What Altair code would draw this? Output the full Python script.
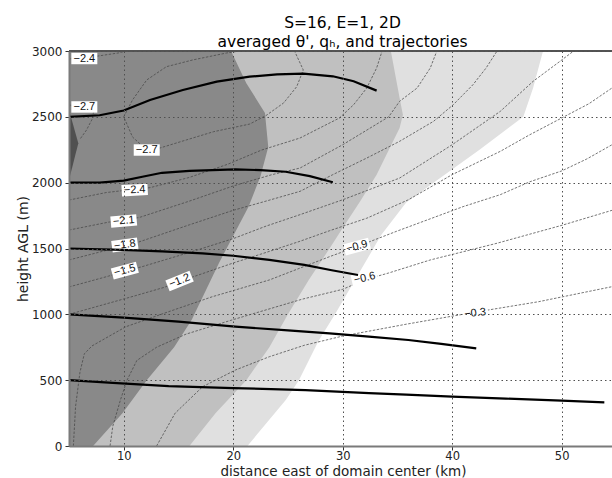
import altair as alt
import pandas as pd

# ---------------- axis ranges and ticks ----------------
x_domain = [5.0, 54.6]
y_domain = [0, 3000]
x_ticks = [10, 20, 30, 40, 50]
y_ticks = [0, 500, 1000, 1500, 2000, 2500, 3000]

# ---------------- q_h shading: boundary x (km) at height y (m) ----------------
qh1_y = [0, 350, 500, 800, 1000, 1300, 1600, 1850, 2000, 2250, 2500, 2720, 3000]
qh1_x = [21.3, 24.8, 26.0, 27.8, 29.3, 31.4, 33.5, 35.8, 38.3, 42.5, 46.5, 47.4, 48.3]
qh2_y = [0, 250, 500, 750, 1000, 1260, 1500, 1656, 1858, 2061, 2263, 2415, 2516, 2643, 3000]
qh2_x = [16.0, 18.4, 21.2, 23.3, 25.0, 26.9, 28.8, 30.0, 31.6, 33.1, 34.3, 35.2, 35.5, 35.2, 34.4]
qh3_y = [0, 250, 500, 750, 957, 1390, 1818, 2050, 2270, 2530, 2755, 3000]
qh3_x = [7.2, 9.9, 12.1, 14.6, 16.2, 18.7, 21.4, 22.5, 23.2, 22.9, 21.2, 19.8]
qh4_y = [2020, 2300, 2552]
qh4_x = [5.0, 5.85, 5.0]
qh_colors = ["#e0e0e0", "#c0c0c0", "#898989", "#505050"]

# ---------------- theta' contours: x (km), height (m) ----------------
c03_x = [13.0, 14.7, 17.2, 20.2, 23.3, 26.5, 30.0, 35.8, 42.2, 47.9, 54.6]
c03_y = [0, 250, 450, 577, 678, 765, 835, 925, 1018, 1096, 1210]
c06_x = [8.75, 9.0, 9.7, 10.3, 11.2, 13.0, 15.7, 20.0, 26.3, 30.0, 32.0, 34.2, 38.0, 44.1, 50.1, 54.6]
c06_y = [0, 150, 350, 500, 650, 750, 850, 960, 1115, 1190, 1262, 1314, 1413, 1540, 1678, 1790]
c09_x = [5.4, 5.6, 6.0, 6.4, 7.1, 10.2, 14.1, 18.1, 23.3, 28.8, 31.3, 34.9, 41.0, 44.4, 47.1, 50.0, 52.3, 54.6]
c09_y = [0, 300, 560, 700, 760, 906, 1020, 1134, 1261, 1438, 1514, 1630, 1818, 1909, 2007, 2089, 2180, 2288]
c12_x = [5.0, 8.0, 11.0, 13.7, 15.1, 16.7, 20.0, 23.0, 26.1, 28.8, 32.2, 36.0, 40.0, 44.4, 47.0, 50.0, 52.5, 54.6]
c12_y = [1000, 1070, 1140, 1205, 1250, 1295, 1390, 1470, 1555, 1635, 1730, 1870, 2061, 2238, 2360, 2491, 2600, 2719]
c15_x = [5.0, 8.6, 10.1, 11.6, 16.0, 20.0, 23.0, 26.1, 30.0, 35.2, 40.0, 44.4, 47.4, 49.5, 51.1]
c15_y = [1208, 1290, 1330, 1360, 1470, 1575, 1670, 1757, 1870, 2035, 2288, 2542, 2770, 2900, 3000]
c18_x = [5.0, 8.6, 10.1, 11.4, 16.0, 20.0, 23.0, 26.1, 29.1, 32.2, 35.2, 38.3, 40.1, 41.9, 43.1, 44.1]
c18_y = [1413, 1490, 1527, 1550, 1680, 1790, 1860, 1934, 2061, 2187, 2314, 2466, 2592, 2744, 2871, 3000]
c21_x = [5.0, 8.6, 10.0, 11.4, 16.0, 20.0, 23.5, 26.1, 30.0, 34.2, 35.2, 36.8, 38.0, 38.6]
c21_y = [1640, 1700, 1716, 1735, 1860, 1975, 2060, 2111, 2288, 2500, 2618, 2719, 2871, 3000]
c24_x = [5.0, 8.4, 11.0, 12.4, 16.0, 19.5, 22.6, 26.1, 27.9, 29.7, 31.0, 32.2, 33.1, 33.6]
c24_y = [1868, 1925, 1950, 1962, 2040, 2140, 2248, 2339, 2415, 2491, 2592, 2719, 2871, 3000]
c24b_x = [5.0, 6.3, 7.5, 9.5, 10.2]
c24b_y = [2940, 2948, 2960, 2985, 3000]
c27_x = [20.6, 19.4, 16.3, 13.9, 12.1, 10.8, 10.0, 10.8, 12.1, 13.3, 15.7, 18.2, 21.5, 23.0, 24.6, 25.8, 26.4, 25.6]
c27_y = [3000, 2985, 2932, 2881, 2780, 2628, 2500, 2347, 2248, 2263, 2324, 2387, 2445, 2510, 2605, 2729, 2856, 3000]
c27b_x = [5.0, 6.3, 7.3, 7.1, 6.6, 6.0]
c27b_y = [2590, 2575, 2560, 2480, 2400, 2330]

# ---------------- contour labels ----------------
lab_text = ["−2.4", "−2.7", "−2.7", "−2.4", "−2.1", "−1.8", "−1.5", "−1.2", "−0.9", "−0.6", "−0.3"]
lab_x = [6.4, 6.4, 12.1, 11.0, 10.0, 10.1, 10.1, 15.1, 31.3, 32.0, 42.1]
lab_y = [2943, 2575, 2248, 1944, 1709, 1527, 1332, 1253, 1514, 1274, 1008]
lab_angle = [0, 0, 0, 357, 355, 352, 345, 338, 345, 347, 354]

# ---------------- trajectories ----------------
t1_x = [5.0, 7.8, 10.0, 12.4, 15.4, 18.5, 21.5, 24.0, 26.4, 29.1, 31.0, 33.1]
t1_y = [2500, 2512, 2548, 2628, 2704, 2767, 2805, 2822, 2828, 2808, 2770, 2699]
t2_x = [5.0, 7.8, 10.0, 11.7, 13.5, 16.0, 20.2, 22.5, 24.8, 27.0, 29.1]
t2_y = [2000, 2000, 2015, 2045, 2075, 2090, 2101, 2095, 2083, 2050, 2003]
t3_x = [5.0, 9.9, 13.5, 17.2, 20.0, 23.3, 26.5, 29.0, 31.4]
t3_y = [1500, 1489, 1478, 1463, 1445, 1413, 1375, 1335, 1299]
t4_x = [5.0, 10.0, 15.0, 20.2, 25.0, 28.8, 32.4, 36.0, 39.0, 42.2]
t4_y = [1000, 975, 945, 906, 878, 856, 830, 805, 775, 742]
t5_x = [5.0, 9.0, 14.1, 20.0, 26.6, 32.4, 35.8, 40.0, 44.9, 50.0, 53.9]
t5_y = [500, 480, 455, 440, 425, 402, 390, 375, 360, 345, 332]

# ---------------- build tables ----------------
def long_table(pairs):
    rows = []
    for cid, (xs, ys) in enumerate(pairs):
        for k, (a, b) in enumerate(zip(xs, ys)):
            rows.append({"cid": cid, "ord": k, "x": a, "y": b})
    return pd.DataFrame(rows)

contour_df = long_table([(c03_x, c03_y), (c06_x, c06_y), (c09_x, c09_y), (c12_x, c12_y),
                         (c15_x, c15_y), (c18_x, c18_y), (c21_x, c21_y), (c24_x, c24_y),
                         (c24b_x, c24b_y), (c27_x, c27_y), (c27b_x, c27b_y)])
traj_df = long_table([(t1_x, t1_y), (t2_x, t2_y), (t3_x, t3_y), (t4_x, t4_y), (t5_x, t5_y)])
label_df = pd.DataFrame({"t": lab_text, "x": lab_x, "y": lab_y, "a": lab_angle})

xscale = alt.Scale(domain=x_domain, nice=False, zero=False)
yscale = alt.Scale(domain=y_domain, nice=False, zero=False)

FONT = "DejaVu Sans"
common_axis = dict(grid=True, gridDash=[1.5, 3], gridColor="#505050", gridWidth=1, tickSize=4,
                   tickColor="#333333", domainColor="#7a7a7a", domainWidth=2, labelFont=FONT,
                   labelColor="#222222", titleFont=FONT,
                   titleFontWeight="normal", titleColor="#222222", titleAlign="center", zindex=1)
x_axis = alt.Axis(values=x_ticks, title="distance east of domain center (km)", format="d",
                  labelFontSize=11.5, labelPadding=0, titleFontSize=13.5, titleX=274, titleY=29.5,
                  titleBaseline="alphabetic", **common_axis)
y_axis = alt.Axis(values=y_ticks, title="height AGL (m)", format="d",
                  labelFontSize=12, labelPadding=3, titleFontSize=14, titleX=-46, titleY=197.5,
                  titleAngle=270, titleBaseline="middle", **common_axis)

layers = []
for i, (ys_, xs_) in enumerate([(qh1_y, qh1_x), (qh2_y, qh2_x), (qh3_y, qh3_x), (qh4_y, qh4_x)]):
    df = pd.DataFrame({"y": ys_, "x": xs_, "x0": [x_domain[0]] * len(xs_)})
    if i == 0:
        enc = dict(y=alt.Y("y:Q", scale=yscale, axis=y_axis), x=alt.X("x:Q", scale=xscale, axis=x_axis),
                   x2="x0:Q")
    else:
        enc = dict(y=alt.Y("y:Q"), x=alt.X("x:Q"), x2="x0:Q")
    layers.append(alt.Chart(df).mark_area(orient="horizontal", color=qh_colors[i], clip=True,
                                          interpolate="linear").encode(**enc))

layers.append(alt.Chart(contour_df).mark_line(color="#474747", strokeWidth=0.75, strokeDash=[2.5, 1.5],
                                              clip=True).encode(
    x="x:Q", y="y:Q", detail="cid:N", order="ord:Q"))

layers.append(alt.Chart(label_df).mark_point(shape="M-1,-0.44L1,-0.44L1,0.44L-1,0.44Z", filled=True,
                                             fill="white", opacity=1, size=676, strokeWidth=0,
                                             clip=True).encode(
    x="x:Q", y="y:Q", angle=alt.Angle("a:Q", scale=None)))
layers.append(alt.Chart(label_df).mark_text(font="Liberation Sans", fontSize=11, color="#111111",
                                            clip=True).encode(
    x="x:Q", y="y:Q", text="t:N", angle=alt.Angle("a:Q", scale=None)))

layers.append(alt.Chart(traj_df).mark_line(color="black", strokeWidth=2.2, clip=True).encode(
    x="x:Q", y="y:Q", detail="cid:N", order="ord:Q"))

layers.append(alt.Chart(label_df).mark_rule(color="#555555", strokeWidth=1.5).encode(
    x=alt.value(0), x2=alt.value(543), y=alt.value(0)))

chart = alt.layer(*layers).properties(
    width=543, height=395,
    padding={"left": 69, "top": 51, "right": 0, "bottom": 32},
    autosize=alt.AutoSizeParams(type="none"),
    title=alt.TitleParams(text=["S=16, E=1, 2D", "averaged θ', qₕ, and trajectories"],
                          font=FONT, fontSize=15.5, fontWeight="normal", color="black",
                          anchor="middle", frame="group", lineHeight=18.5, offset=1, dx=2, dy=6),
).configure_view(stroke=None).configure(background="white")

chart.save("out.html", embed_options={"renderer": "svg", "actions": False})
